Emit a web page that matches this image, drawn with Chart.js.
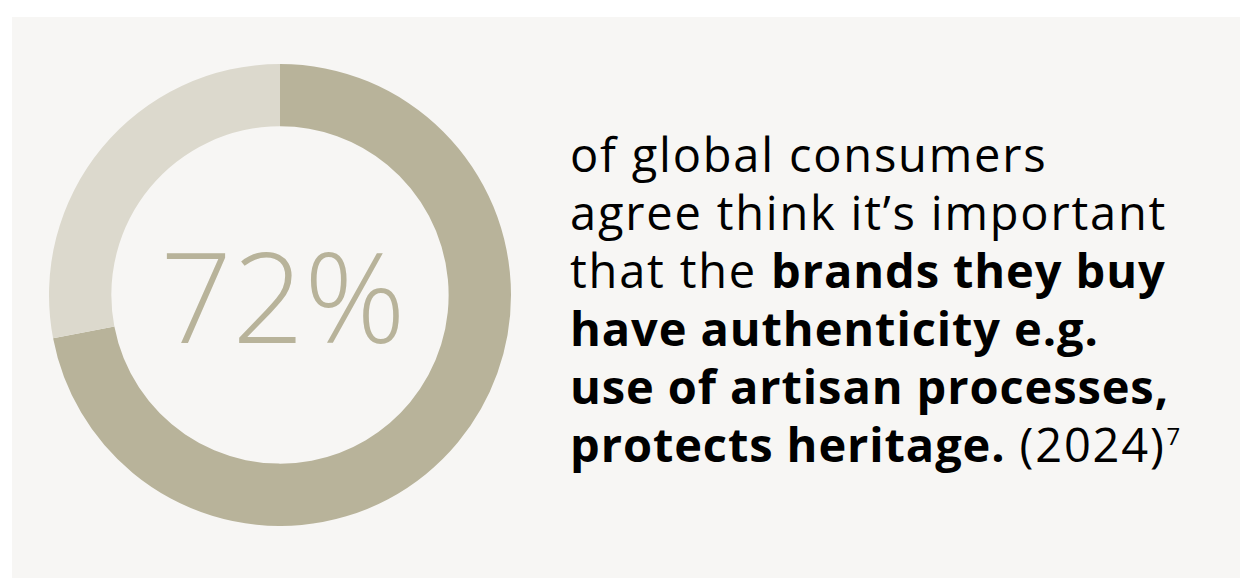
<!DOCTYPE html>
<html>
<head>
<meta charset="utf-8">
<script src="https://cdn.jsdelivr.net/npm/chart.js@4"></script>
<style>
  html, body { margin: 0; padding: 0; background: #ffffff; }
  body { width: 1240px; height: 578px; position: relative; overflow: hidden; }
  .panel {
    position: absolute; left: 12px; top: 17px; width: 1228px; height: 561px;
    background: #f7f6f4;
  }
  .ring {
    position: absolute; left: 49px; top: 64px; width: 462px; height: 462px;
  }
  .copy {
    position: absolute; left: 570px; top: 125px;
    font-family: "Open Sans", sans-serif; font-size: 47px; line-height: 58px;
    letter-spacing: 1.8px;
    color: #000; white-space: nowrap;
  }
  .copy b { font-weight: 700; letter-spacing: 0.9px; }
  .copy sup { font-size: 24px; vertical-align: top; position: relative; top: -8px; margin-left: 1px; }
</style>
</head>
<body>
<div class="panel"></div>
<div class="ring"><canvas id="donut"></canvas></div>
<div class="copy">
  of global consumers<br>
  agree think it’s important<br>
  that the <b>brands they buy</b><br>
  <b>have authenticity e.g.</b><br>
  <b>use of artisan processes,</b><br>
  <b>protects heritage.</b> (2024)<sup>7</sup>
</div>
<script>
// Share of consumers who agree vs. the rest
const labels = ['Agree', 'Other'];
const shares = [72, 28];
const colors = ['#b8b39a', '#dcd9cd'];
const centerLabel = '72%';

// Big percentage in the hole of the ring
const centerText = {
  id: 'centerText',
  afterDraw(chart) {
    const { ctx, chartArea } = chart;
    const x = (chartArea.left + chartArea.right) / 2;
    const y = (chartArea.top + chartArea.bottom) / 2;
    ctx.save();
    ctx.font = '300 126px "Open Sans", sans-serif';
    ctx.fillStyle = '#b8b39a';
    ctx.textAlign = 'center';
    ctx.textBaseline = 'alphabetic';
    ctx.fillText(centerLabel, x + 3, y + 48);
    ctx.restore();
  }
};

new Chart(document.getElementById('donut'), {
  type: 'doughnut',
  data: {
    labels: labels,
    datasets: [{
      data: shares,
      backgroundColor: colors,
      borderWidth: 0
    }]
  },
  options: {
    responsive: true,
    maintainAspectRatio: false,
    animation: false,
    cutout: '73%',
    layout: { padding: 0 },
    plugins: {
      legend: { display: false },
      tooltip: { enabled: false }
    }
  },
  plugins: [centerText]
});
</script>
</body>
</html>
